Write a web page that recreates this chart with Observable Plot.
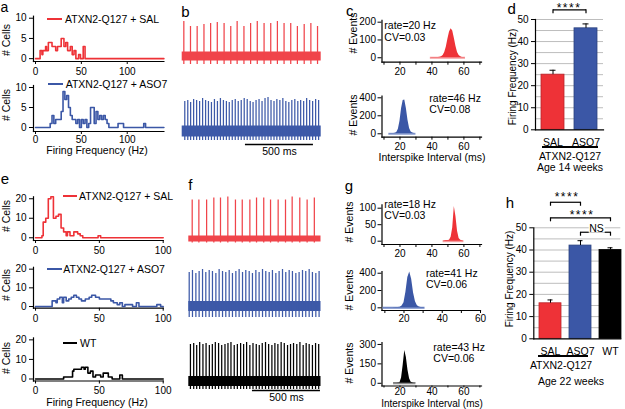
<!DOCTYPE html>
<html><head><meta charset="utf-8">
<script src="https://cdn.jsdelivr.net/npm/d3@7"></script>
<script src="https://cdn.jsdelivr.net/npm/@observablehq/plot@0.6"></script>
<style>
html,body{margin:0;padding:0;background:#fff;}
#fig{position:relative;width:625px;height:409px;overflow:hidden;background:#fff;font-family:"Liberation Sans",Arial,sans-serif;color:#000;}
#fig svg{position:absolute;left:0;top:0;}
.t{position:absolute;white-space:nowrap;line-height:1;}
.sw{position:absolute;height:2px;}
</style></head><body><div id="fig"></div><script>
// ================= DATA =================
// a: firing-frequency histograms, age 14 weeks  [Hz (step start), # cells]
const histA_SAL = [[0,0],[5,2],[7,1],[8,2],[11,3],[12,2],[14,4],[18,3],[20,3],[22,2],[24,3],[28,5],[31,3],[33,4],[35,2],[38,3],[40,1],[42,2],[44,0],[47,1],[49,0],[52,3],[54,0],[140,0]];
const histA_ASO7 = [[0,0],[16,1],[18,3],[20,1],[22,2],[26,2],[28,4],[30,9],[32,7],[34,8],[36,5],[38,3],[40,2],[44,1],[46,2],[48,0],[50,2],[52,1],[54,2],[56,0],[58,1],[60,5],[63,5],[64,1],[66,4],[68,2],[70,3],[72,2],[74,3],[76,2],[78,1],[80,0],[90,1],[96,0],[118,1],[120,0],[140,0]];
// e: firing-frequency histograms, age 22 weeks
const histE_SAL = [[0,0],[5,1],[6,8],[8,10],[10,20],[12,21],[14,10],[16,11],[18,12],[20,5],[22,3],[24,1],[25,3],[27,1],[29,1],[30,3],[33,2],[35,1],[37,0],[49,1],[51,0],[100,0]];
const histE_ASO7 = [[0,0],[13,3],[16,2],[17,4],[19,5],[21,2],[22,5],[24,3],[26,4],[28,5],[30,6],[32,5],[34,4],[36,3],[39,4],[42,5],[44,6],[47,5],[50,4],[56,4],[59,3],[61,2],[64,1],[66,2],[68,0],[70,1],[74,1],[76,0],[79,2],[81,0],[95,1],[98,0],[100,0]];
const histE_WT = [[0,0],[22,1],[29,4],[30,5],[33,5],[36,6],[38,5],[39,6],[41,3],[43,4],[45,1],[47,2],[49,2],[51,1],[53,3],[56,3],[57,1],[60,0],[66,2],[68,0],[100,0]];
const histA_yTicks = [0,5,10], histE_yTicks = [0,10,20];
const histA_xTicks = [0,50,100], histE_xTicks = [0,50,100];

// b / f: spike trains (spike times in ms, peak amplitude relative to baseline)
const bSAL_ms  = [12,61,110,160,209,258,308,357,404,454,503,552,602,651,700,749,798,847,897,946,995];
const bSAL_amp = [35,30,30,32,33,34,33,30,35,30,33,35,33,33,35,33,33,30,32,33,30];
const bASO7_ms  = [19,41,62,84,106,128,150,172,193,215,237,259,281,303,325,346,368,390,412,434,456,478,500,521,543,565,587,609,631,653,675,696,718,740,762,784,806,828,850,871,893,915,937,959,981,1003];
const bASO7_amp = [30,31,29,32,31,30,33,31,30,29,32,30,33,31,30,29,31,32,30,31,33,32,30,29,31,32,30,33,34,31,30,32,31,33,30,29,31,32,30,31,30,33,31,30,32,31];
const fSAL_ms  = [25,74,131,184,233,287,343,393,449,498,551,601,657,711,760,816,870,923];
const fSAL_amp = [39,39,39,41,41,42,39,39,39,41,41,39,39,39,42,41,39,41];
const fASO7_ms  = [3,27,52,76,101,125,150,174,199,223,248,272,297,321,346,370,395,419,444,468,493,517,542,566,591,615,640,664,689,713,738,762,787,811,836,860,885,909,934,958];
const fASO7_amp = [34,36,33,35,37,34,36,35,33,37,35,34,36,33,35,37,34,36,35,33,36,34,37,35,34,36,33,35,37,34,36,35,33,34,36,35,37,34,33,35];
const fWT_ms  = [12,36,58,80,104,127,151,173,195,219,242,266,288,310,334,357,381,403,425,449,472,496,518,540,564,587,611,633,655,679,702,726,748,770,794,817,841,863,885,909,932,955];
const fWT_amp = [37,38,36,39,37,38,36,37,39,38,36,37,38,39,36,37,38,37,39,36,38,37,36,38,39,37,36,38,37,39,38,36,37,38,37,39,36,38,37,36,38,37];
const bScaleBar = [{t1: 465, t2: 965, y: -13, label: "500 ms"}];
const fScaleBar = [{t1: 468, t2: 968, y: -9, label: "500 ms"}];

// c / g: interspike-interval histograms [ms, # events]
const isiC_SAL  = [[39,0],[40,1],[42,1],[44,2],[45,3],[46,5],[47,12],[48,30],[49,60],[50,105],[51,145],[52,163],[53,150],[54,110],[55,65],[56,30],[57,12],[58,5],[59,2],[60,1],[61,0]];
const isiC_ASO7 = [[13,0],[14,2],[15,3],[16,4],[17,6],[18,15],[19,50],[20,140],[21,280],[22,370],[23,375],[24,280],[25,150],[26,60],[27,20],[28,8],[29,3],[30,0]];
const isiG_SAL  = [[47,0],[48,1],[49,2],[50,2],[51,3],[52,12],[53,40],[54,105],[55,75],[56,30],[57,8],[58,3],[59,1],[60,0]];
const isiG_ASO7 = [[9,2],[10,2],[12,2],[14,2],[16,3],[17,4],[18,8],[19,20],[20,60],[21,180],[22,350],[23,415],[24,330],[25,170],[26,70],[27,25],[28,10],[29,5],[30,3],[31,0]];
const isiG_WT   = [[16,2],[18,3],[20,5],[21,40],[22,140],[23,254],[24,200],[25,100],[26,35],[27,8],[28,4],[29,2],[30,2]];
const isiTicks = [10,20,30,40,50,60,70], isiTicksShort = [10,20,30,40,50,60], isiLabels = [20,40,60];

// d / h: mean firing frequency (Hz) with SEM
const groups14 = ["SAL","ASO7"], rate14 = [25,46], sem14 = [2,2];
const groups22 = ["SAL","ASO7","WT"], rate22 = [16,42,40], sem22 = [1.5,2.2,1];
const barYTicks = [0,10,20,30,40,50];
const barGrid = [5,10,15,20,25,30,35,40,45,50];
const brackets14 = [{a:"SAL", b:"ASO7", y:54.4}];
const brackets22 = [{a:"SAL", b:"ASO7", y:61.5},{a:"SAL", b:"WT", y:54.5},{a:"ASO7", b:"WT", y:48}];

// ================= STYLE / LAYOUT =================
const W = 625, H = 409;
const FONT = '"Liberation Sans", Arial, sans-serif';
const COL = {SAL: "#ee3237", ASO7: "#3b57a6", WT: "#000000"};
const EDGE = {SAL: "#b8242a", ASO7: "#2c437f", WT: "#000000"};
const fig = document.getElementById("fig");

function plotPanel(box, x, y, marks, extra = {}) {
  const p = Plot.plot({
    width: W, height: H,
    marginLeft: box.x0, marginRight: W - box.x1,
    marginTop: box.yTop, marginBottom: H - box.yBot,
    x, y, marks, ...extra,
    style: {background: "transparent", fontFamily: FONT, fontSize: "10px", color: "#000", position: "absolute", left: "0px", top: "0px", overflow: "visible"}
  });
  fig.appendChild(p);
}
const axesLines = () => [Plot.frame({anchor: "left", strokeWidth: 1.2}), Plot.frame({anchor: "bottom", strokeWidth: 1.2})];

function histPanel(box, xDomain, yDomain, steps, color, yTicks, xTicks, pad) {
  plotPanel(box, {domain: xDomain}, {domain: yDomain}, [
    ...axesLines(),
    Plot.axisY(yTicks, {tickSize: 4, tickPadding: 3, label: null}),
    Plot.axisX(xTicks, {tickSize: 3, tickPadding: pad, label: null}),
    Plot.line(steps, {x: d => d[0], y: d => d[1], curve: "step-after", stroke: color, strokeWidth: 1.6})
  ]);
}
function tracePanel(box, xDomain, yDomain, ms, amp, color, noise, trough, bar) {
  const spikes = ms.map((t, i) => ({t, amp: amp[i]}));
  const marks = [
    Plot.rect([0], {x1: xDomain[0], x2: xDomain[1], y1: -noise, y2: noise, fill: color}),
    Plot.ruleX(spikes, {x: "t", y1: trough, y2: "amp", stroke: color, strokeWidth: 1.25})
  ];
  if (bar) marks.push(
    Plot.ruleY(bar, {x1: "t1", x2: "t2", y: "y", strokeWidth: 1.5, stroke: "#000"}),
    Plot.text(bar, {x: d => (d.t1 + d.t2) / 2, y: "y", text: "label", dy: 7.5, fontSize: 10.5, lineAnchor: "middle"})
  );
  plotPanel(box, {domain: xDomain, axis: null}, {domain: yDomain, axis: null}, marks);
}
function isiPanel(box, xDomain, yDomain, bins, fill, base, yTicks, xTicks, pad, tick = 3) {
  plotPanel(box, {domain: xDomain}, {domain: yDomain}, [
    ...axesLines(),
    Plot.axisY(yTicks, {tickSize: 4, tickPadding: 2, label: null}),
    Plot.axisX(xTicks, {tickSize: tick, tickPadding: pad, label: null, tickFormat: d => isiLabels.includes(d) ? d : ""}),
    Plot.ruleY([bins], {y: 0, x1: d => d[0][0], x2: d => d[d.length - 1][0], stroke: base, strokeWidth: 2}),
    Plot.areaY(bins, {x: d => d[0], y: d => d[1], fill, curve: "linear"})
  ]);
}
function barPanel(box, xOpts, groups, means, sems, brackets, pad) {
  const rows = groups.map((g, i) => ({group: g, mean: means[i], sem: sems[i]}));
  plotPanel(box, {domain: groups, ...xOpts}, {domain: [0, 50]}, [
    Plot.gridY(barGrid, {stroke: "#b5b5b5", strokeOpacity: 1, strokeWidth: 0.9}),
    Plot.barY(rows, {x: "group", y: "mean", fill: d => COL[d.group], stroke: d => EDGE[d.group], strokeWidth: 0.8}),
    Plot.ruleX(rows, {x: "group", y1: "mean", y2: d => d.mean + d.sem, strokeWidth: 1}),
    Plot.tickY(rows, {x: "group", y: d => d.mean + d.sem, insetLeft: 8.5, insetRight: 8.5, strokeWidth: 1}),
    ...axesLines(),
    Plot.axisY(barYTicks, {tickSize: 4, tickPadding: 3, label: null}),
    Plot.axisX({tickSize: 0, tickPadding: pad, label: null, fontSize: 10.5}),
    Plot.link(brackets, {x1: "a", x2: "b", y1: "y", y2: "y", strokeWidth: 1.2}),
    Plot.ruleX(brackets, {x: "a", y1: d => d.y - 1.8, y2: "y", strokeWidth: 1.2}),
    Plot.ruleX(brackets, {x: "b", y1: d => d.y - 1.8, y2: "y", strokeWidth: 1.2})
  ], {color: {type: "identity"}});
}

// ---- a ----
histPanel({x0: 33, x1: 163.4, yTop: 15.7, yBot: 61}, [-2.2, 140], [-0.7, 10.5], histA_SAL, COL.SAL, histA_yTicks, histA_xTicks, 3);
histPanel({x0: 33, x1: 163.4, yTop: 85, yBot: 131}, [-2.2, 140], [-1, 10.5], histA_ASO7, COL.ASO7, histA_yTicks, histA_xTicks, 1);
// ---- e ----
histPanel({x0: 33, x1: 162.7, yTop: 196.3, yBot: 240}, [-1.6, 100], [-1.4, 21], histE_SAL, COL.SAL, histE_yTicks, histE_xTicks, 3);
histPanel({x0: 33, x1: 162.7, yTop: 266.8, yBot: 307.7}, [-1.6, 100], [-0.9, 21], histE_ASO7, COL.ASO7, histE_yTicks, histE_xTicks, 3.5);
histPanel({x0: 33, x1: 162.7, yTop: 337.4, yBot: 380.5}, [-1.6, 100], [-1.03, 21], histE_WT, COL.WT, histE_yTicks, histE_xTicks, 3);
// ---- b ----
tracePanel({x0: 181.7, x1: 320.7, yTop: 16, yBot: 68}, [0, 1022], [-12, 40], bSAL_ms, bSAL_amp, "#f0444a", 4.5, -8, null);
tracePanel({x0: 181.7, x1: 320.7, yTop: 91, yBot: 145}, [0, 1022], [-14, 40], bASO7_ms, bASO7_amp, "#3d59a8", 5.5, -9, bScaleBar);
// ---- f ----
tracePanel({x0: 188.3, x1: 320.5, yTop: 193.5, yBot: 248.5}, [0, 972], [-10, 45], fSAL_ms, fSAL_amp, "#f0444a", 3, -4, null);
tracePanel({x0: 188.3, x1: 320.5, yTop: 266, yBot: 318}, [0, 972], [-12, 40], fASO7_ms, fASO7_amp, "#3d59a8", 5, -11, null);
tracePanel({x0: 188.3, x1: 320.5, yTop: 339, yBot: 393}, [0, 972], [-12, 42], fWT_ms, fWT_amp, "#000000", 5, -8, fScaleBar);
// ---- c ----
isiPanel({x0: 381.5, x1: 481, yTop: 19.9, yBot: 61.7}, [8.75, 71], [-25, 210], isiC_SAL, COL.SAL, "#f59a9c", [0,100,200], isiTicks, 3);
isiPanel({x0: 381.5, x1: 481, yTop: 95.5, yBot: 136.7}, [8.75, 71], [-38, 420], isiC_ASO7, COL.ASO7, "#8d9fd0", [0,200,400], isiTicks, 2.5);
// ---- g ----
isiPanel({x0: 381.5, x1: 481, yTop: 204.4, yBot: 244}, [8.75, 71], [-10, 110], isiG_SAL, COL.SAL, "#f59a9c", [0,50,100], isiTicks, 2);
isiPanel({x0: 381.5, x1: 480, yTop: 271, yBot: 310}, [8.5, 60], [-31, 420], isiG_ASO7, COL.ASO7, "#6f86c4", [0,200,400], isiTicksShort, 1.8);
isiPanel({x0: 381.5, x1: 481, yTop: 342, yBot: 385.5}, [8.75, 71], [-21, 315], isiG_WT, COL.WT, "#8a8a8a", [0,150,300], isiTicks, 0, 2);
// ---- d ----
barPanel({x0: 535, x1: 603, yTop: 19, yBot: 129.3}, {paddingInner: 0.3, paddingOuter: 0.17}, groups14, rate14, sem14, brackets14, 9);
// ---- h ----
barPanel({x0: 533.3, x1: 620.3, yTop: 227.3, yBot: 338.3}, {paddingInner: 0.28, paddingOuter: 0.085, align: 1}, groups22, rate22, sem22, brackets22, 8.3);

// ================= TEXT ANNOTATIONS =================
function note(s, x, y, o = {}) {
  const d = document.createElement("div");
  d.className = "t";
  d.textContent = s;
  d.style.fontSize = (o.size ?? 10.5) + "px";
  d.style.left = x + "px"; d.style.top = y + "px";
  if (o.ls) d.style.letterSpacing = o.ls + "px";
  if (o.bg) { d.style.background = o.bg; d.style.padding = "0 1px"; }
  const ax = {start: "0%", middle: "-50%", end: "-100%"}[o.anchor ?? "start"];
  d.style.transform = o.rotate ? `translate(-50%,-50%) rotate(${o.rotate}deg)` : `translate(${ax},-50%)`;
  fig.appendChild(d);
}
function swatch(x1, x2, y, color) {
  const d = document.createElement("div");
  d.className = "sw";
  d.style.left = x1 + "px"; d.style.width = (x2 - x1) + "px"; d.style.top = (y - 1) + "px"; d.style.background = color;
  fig.appendChild(d);
}
function hline(x1, x2, y) { swatch(x1, x2, y, "#000"); }

// panel letters
[["a",4.5,7,14],["b",185.5,10.8,15],["c",349.7,9.8,15],["d",511.7,8.1,15],["e",5,178.1,15],["f",190.3,184.1,15],["g",349,184.8,15],["h",510,202.1,15]]
  .forEach(([s,x,y,sz]) => note(s, x, y, {size: sz, anchor: "middle"}));

// legends
swatch(47, 62, 19, COL.SAL);   note("ATXN2-Q127 + SAL", 65, 19);
swatch(48.3, 63.3, 84.3, COL.ASO7); note("ATXN2-Q127 + ASO7", 65.7, 84.3);
swatch(62.7, 77.3, 196, COL.SAL); note("ATXN2-Q127 + SAL", 79, 196);
swatch(46.7, 61.7, 268.7, COL.ASO7); note("ATXN2-Q127 + ASO7", 63.3, 268.7);
swatch(63, 77, 342.7, COL.WT); note("WT", 80, 342.7);

// axis titles
[40, 105, 216, 285, 357.5].forEach(y => note("# Cells", 5.5, y, {rotate: -90}));
note("Firing Frequency (Hz)", 97, 150, {anchor: "middle"});
note("Firing Frequency (Hz)", 97, 402, {anchor: "middle"});
[[353,32.5],[353,115],[349,222],[349,290],[349,363]].forEach(([x,y]) => note("# Events", x, y, {rotate: -90}));
note("Interspike Interval (ms)", 432, 157, {anchor: "middle"});
note("Interspike Interval (ms)", 432, 403.6, {anchor: "middle", size: 10});
note("Firing Frequency (Hz)", 513, 76.5, {rotate: -90, size: 10});
note("Firing Frequency (Hz)", 509.5, 279, {rotate: -90, size: 10});

// rate / CV
note("rate=20 Hz", 384.3, 25); note("CV=0.03", 384.3, 36.7);
note("rate=46 Hz", 429.3, 98); note("CV=0.08", 429.3, 109);
note("rate=18 Hz", 384.3, 204); note("CV=0.03", 384.3, 215);
note("rate=41 Hz", 426, 272.8); note("CV=0.06", 426, 284);
note("rate=43 Hz", 433.3, 346.7); note("CV=0.06", 433.3, 358.3);

// bar-chart group labels
hline(541.7, 598.3, 146.7);
note("ATXN2-Q127", 570, 155.5, {anchor: "middle"});
note("Age 14 weeks", 570, 167, {anchor: "middle"});
hline(538, 588, 355.5);
note("ATXN2-Q127", 561, 365, {anchor: "middle"});
note("Age 22 weeks", 571, 381, {anchor: "middle"});
// significance labels
note("****", 569, 7.6, {size: 12, anchor: "middle", ls: 1.5});
note("****", 567, 197.3, {size: 12, anchor: "middle", ls: 1.5});
note("****", 582, 215, {size: 12, anchor: "middle", ls: 1.5});
note("NS", 596.5, 227.5, {anchor: "middle", bg: "#fff"});
</script></body></html>
